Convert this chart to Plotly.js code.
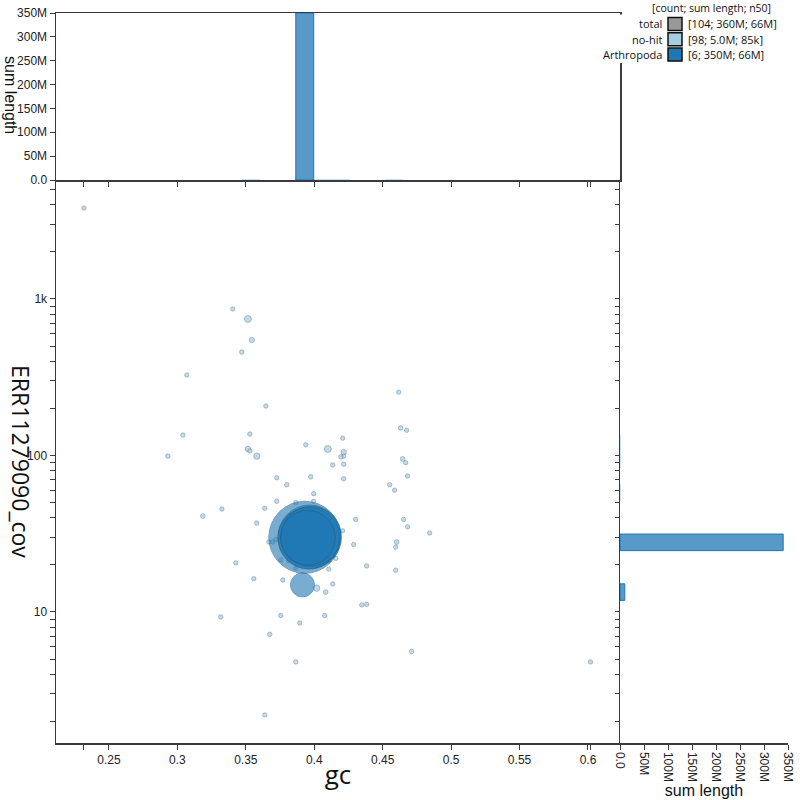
<!DOCTYPE html>
<html>
<head>
<meta charset="utf-8">
<script src="https://cdn.plot.ly/plotly-3.0.1.min.js"></script>
<style>
  html, body { margin: 0; padding: 0; background: #fff; }
  #chart { width: 800px; height: 800px; }
</style>
</head>
<body>
<div id="chart"></div>
<script>
// no-hit contigs: gc, coverage, length (bp)
let gcNoHit = [0.2317, 0.3405, 0.3515, 0.3544, 0.347, 0.3069, 0.304, 0.293, 0.3646, 0.4617,
  0.3529, 0.4631, 0.4675, 0.4208, 0.3938, 0.4099, 0.3515, 0.353, 0.358, 0.4215,
  0.4215, 0.4194, 0.4135, 0.4215, 0.4646, 0.4668, 0.4682, 0.3726, 0.3974, 0.4215,
  0.3799, 0.4551, 0.4587, 0.3996, 0.3726, 0.3996, 0.3865, 0.3639, 0.4653, 0.358,
  0.4303, 0.4682, 0.4843, 0.4208, 0.4602, 0.4595, 0.3668, 0.3719, 0.3697, 0.4288,
  0.3427, 0.3755, 0.3813, 0.4157, 0.4106, 0.4383, 0.4595, 0.4106, 0.3865, 0.3558,
  0.377, 0.4135, 0.4018, 0.4084, 0.4347, 0.4383, 0.3755, 0.4076, 0.3894, 0.3675,
  0.4712, 0.3865, 0.3186, 0.3325, 0.3317, 0.3639, 0.6018,
  0.392, 0.397, 0.400, 0.394, 0.399, 0.390];
let covNoHit = [3810, 863, 745, 547, 458, 327, 135, 99, 207, 254,
  137, 150, 145, 129, 117, 110, 110, 107, 99, 105,
  99, 98, 87, 88, 95, 90, 74, 72, 73, 71,
  65, 65, 60, 57, 51, 51, 50, 46, 39, 37,
  39, 35, 32, 33, 28, 26, 28, 29, 28, 27,
  20.6, 21.5, 21.3, 22, 21.3, 19.7, 18.5, 18.8, 19, 16.3,
  16, 15.1, 14.2, 13.4, 11.1, 11.2, 9.5, 9.5, 8.5, 7.2,
  5.6, 4.8, 41, 45.5, 9.3, 2.2, 4.8,
  28, 32, 27, 34, 30, 26];
let lenNoHit = [40e3, 40e3, 850e3, 500e3, 25e3, 25e3, 25e3, 25e3, 25e3, 25e3,
  25e3, 350e3, 25e3, 25e3, 25e3, 850e3, 500e3, 25e3, 700e3, 500e3,
  25e3, 25e3, 25e3, 350e3, 400e3, 25e3, 25e3, 25e3, 350e3, 350e3,
  350e3, 350e3, 25e3, 350e3, 25e3, 25e3, 25e3, 25e3, 25e3, 25e3,
  25e3, 25e3, 25e3, 25e3, 400e3, 25e3, 25e3, 25e3, 25e3, 25e3,
  25e3, 25e3, 25e3, 25e3, 25e3, 350e3, 350e3, 25e3, 25e3, 25e3,
  25e3, 25e3, 700e3, 400e3, 25e3, 25e3, 25e3, 25e3, 25e3, 25e3,
  350e3, 25e3, 400e3, 25e3, 25e3, 25e3, 350e3,
  30e3, 30e3, 30e3, 30e3, 30e3, 30e3];

// Arthropoda contigs
let gcArth = [0.3931, 0.3967, 0.3960, 0.3974, 0.3953, 0.3914];
let covArth = [30.0, 30.2, 29.6, 30.4, 29.8, 14.9];
let lenArth = [90e6, 70e6, 66e6, 62e6, 52e6, 10e6];

// legend rows
let legendNames = ["total", "no-hit", "Arthropoda"];
let legendStats = ["[104; 360M; 66M]", "[98; 5.0M; 85k]", "[6; 350M; 66M]"];
let legendColors = ["#999999", "#a6cee3", "#1f78b4"];

let gcTicks = [0.25, 0.3, 0.35, 0.4, 0.45, 0.5, 0.55, 0.6];
let covLabels = { 10: "10", 100: "100", 1000: "1k" };

// ---- layout geometry (pixels) ----
const W = 800, H = 800;
const ml = 56, mr = 12, mt = 13, mb = 57;
const pw = W - ml - mr, ph = H - mt - mb;
const splitX = (620 - ml) / pw;      // main | right hist
const splitY = (743 - 180) / ph;     // main | top hist
const xRange = [0.2113, 0.6234];
const yLogRange = [0.163, 3.76];

function px(x) { return (x - ml) / pw; }
function py(y) { return (H - mb - y) / ph; }

const tickFont = { family: "Liberation Sans, Arial, sans-serif", size: 12, color: "#222" };
const lineCol = "#3a3a44";

// x ticks incl. data range ends
let allGc = gcNoHit.concat(gcArth);
let gcMin = Math.min(...allGc), gcMax = Math.max(...allGc);
let xTickVals = [gcMin].concat(gcTicks, [gcMax]);
let xTickText = [""].concat(gcTicks.map(String), [""]);

// log-axis tick positions (1..9 per decade)
let covTicks = [], covText = [], logTicks = [];
for (let d = 0; d < 4; d++) {
  for (let m = 1; m <= 9; m++) {
    let c = m * Math.pow(10, d);
    let v = Math.log10(c);
    if (v >= yLogRange[0] && v <= yLogRange[1]) {
      covTicks.push(c);
      covText.push(covLabels[c] || "");
      logTicks.push(v);
    }
  }
}

const sizeRef = 34722;

let traces = [
  {
    type: "scatter", mode: "markers", name: "no-hit",
    x: gcNoHit, y: covNoHit, xaxis: "x", yaxis: "y",
    marker: {
      size: lenNoHit, sizemode: "area", sizeref: sizeRef, sizemin: 2.2,
      color: "#a6cee3", opacity: 0.7,
      line: { color: "rgba(70,100,125,0.8)", width: 0.7 }
    },
    hoverinfo: "skip"
  },
  {
    type: "scatter", mode: "markers", name: "Arthropoda",
    x: gcArth, y: covArth, xaxis: "x", yaxis: "y",
    marker: {
      size: lenArth, sizemode: "area", sizeref: sizeRef, sizemin: 2.2,
      color: "#1f78b4", opacity: 0.6,
      line: { color: "#1b5f8f", width: 1 }
    },
    hoverinfo: "skip"
  },
  {
    type: "histogram", histfunc: "sum", name: "no-hit",
    x: gcNoHit, y: lenNoHit, xaxis: "x2", yaxis: "y2",
    xbins: { start: 0.2162, end: 0.63, size: 0.0131 },
    marker: { color: "rgba(166,206,227,0.6)", line: { width: 0 } }
  },
  {
    type: "histogram", histfunc: "sum", name: "Arthropoda",
    x: gcArth, y: lenArth, xaxis: "x2", yaxis: "y2",
    xbins: { start: 0.2162, end: 0.63, size: 0.0131 },
    marker: { color: "rgba(31,120,180,0.75)", line: { color: "#1f78b4", width: 1 } }
  },
  {
    type: "histogram", histfunc: "sum", orientation: "h", name: "no-hit",
    y: covNoHit.map(Math.log10), x: lenNoHit, xaxis: "x3", yaxis: "y3",
    ybins: { start: 0.226, end: 3.8, size: 0.106 },
    marker: { color: "rgba(166,206,227,0.6)", line: { width: 0 } }
  },
  {
    type: "histogram", histfunc: "sum", orientation: "h", name: "Arthropoda",
    y: covArth.map(Math.log10), x: lenArth, xaxis: "x3", yaxis: "y3",
    ybins: { start: 0.226, end: 3.8, size: 0.106 },
    marker: { color: "rgba(31,120,180,0.75)", line: { color: "#1f78b4", width: 1 } }
  }
];

let axisBase = {
  showgrid: false, zeroline: false, showline: true,
  linecolor: lineCol, linewidth: 1.5,
  ticks: "outside", ticklen: 5, tickcolor: lineCol, tickwidth: 1,
  tickfont: tickFont
};

// custom legend (name | swatch | stats)
const legFont = { family: "Open Sans", size: 11, color: "#111" };
let shapes = [{
  type: "rect", xref: "paper", yref: "paper", layer: "above",
  x0: px(600), x1: px(792), y0: py(14.5), y1: py(63),
  fillcolor: "#fff", line: { width: 0 }
}];
let annotations = [{
  xref: "paper", yref: "paper", x: px(711), y: py(8),
  text: "[count; sum length; n50]", showarrow: false, borderpad: 0,
  xanchor: "center", yanchor: "middle", font: Object.assign({}, legFont, { size: 10.5 })
}];
for (let i = 0; i < legendNames.length; i++) {
  let cy = 24 + i * 15.3;
  shapes.push({
    type: "rect", xref: "paper", yref: "paper", layer: "above",
    x0: px(668), x1: px(682), y0: py(cy - 6.5), y1: py(cy + 6.5),
    fillcolor: legendColors[i], line: { color: "#111", width: 1.5 }
  });
  annotations.push({
    xref: "paper", yref: "paper", x: px(663), y: py(cy),
    text: legendNames[i], showarrow: false, xanchor: "right", yanchor: "middle",
    borderpad: 0, font: legFont
  });
  annotations.push({
    xref: "paper", yref: "paper", x: px(687), y: py(cy),
    text: legendStats[i], showarrow: false, xanchor: "left", yanchor: "middle",
    borderpad: 0, font: legFont
  });
}

// rotated axis titles (read top to bottom)
annotations.push({
  xref: "paper", yref: "paper", x: px(21), y: py(461),
  text: "ERR11279090_cov", showarrow: false, textangle: 90,
  xanchor: "center", yanchor: "middle",
  font: { family: "Open Sans", size: 23, color: "#111" }
});
annotations.push({
  xref: "paper", yref: "paper", x: px(10), y: py(95),
  text: "sum length", showarrow: false, textangle: 90,
  xanchor: "center", yanchor: "middle",
  font: { family: "Liberation Sans, Arial, sans-serif", size: 16, color: "#111" }
});

let layout = {
  width: W, height: H,
  margin: { l: ml, r: mr, t: mt, b: mb, pad: 0 },
  paper_bgcolor: "#fff", plot_bgcolor: "#fff",
  showlegend: false, barmode: "overlay", bargap: 0,
  xaxis: Object.assign({}, axisBase, {
    domain: [0, splitX], anchor: "y", range: xRange,
    tickmode: "array", tickvals: xTickVals, ticktext: xTickText,
    title: { text: "gc", font: { family: "Open Sans", size: 26, color: "#111" }, standoff: 0 }
  }),
  yaxis: Object.assign({}, axisBase, {
    domain: [0, splitY], anchor: "x", type: "log", range: yLogRange,
    tickmode: "array", tickvals: covTicks, ticktext: covText
  }),
  xaxis2: Object.assign({}, axisBase, {
    domain: [0, splitX], anchor: "y2", range: xRange, mirror: true,
    tickmode: "array", tickvals: xTickVals, showticklabels: false
  }),
  yaxis2: Object.assign({}, axisBase, {
    domain: [splitY, 1], anchor: "x2", range: [0, 350e6], mirror: true,
    dtick: 50e6, tickformat: ".2s"
  }),
  xaxis3: Object.assign({}, axisBase, {
    domain: [splitX, 1], anchor: "y3", range: [0, 350e6],
    dtick: 50e6, tickformat: ".2s", tickangle: 90,
    title: { text: "sum length", font: { family: "Liberation Sans, Arial, sans-serif", size: 16, color: "#111" }, standoff: 2 }
  }),
  yaxis3: Object.assign({}, axisBase, {
    domain: [0, splitY], anchor: "x3", range: yLogRange,
    tickmode: "array", tickvals: logTicks, showticklabels: false, ticklen: 4
  }),
  shapes: shapes,
  annotations: annotations
};

Plotly.newPlot("chart", traces, layout, { staticPlot: true });
</script>
</body>
</html>
